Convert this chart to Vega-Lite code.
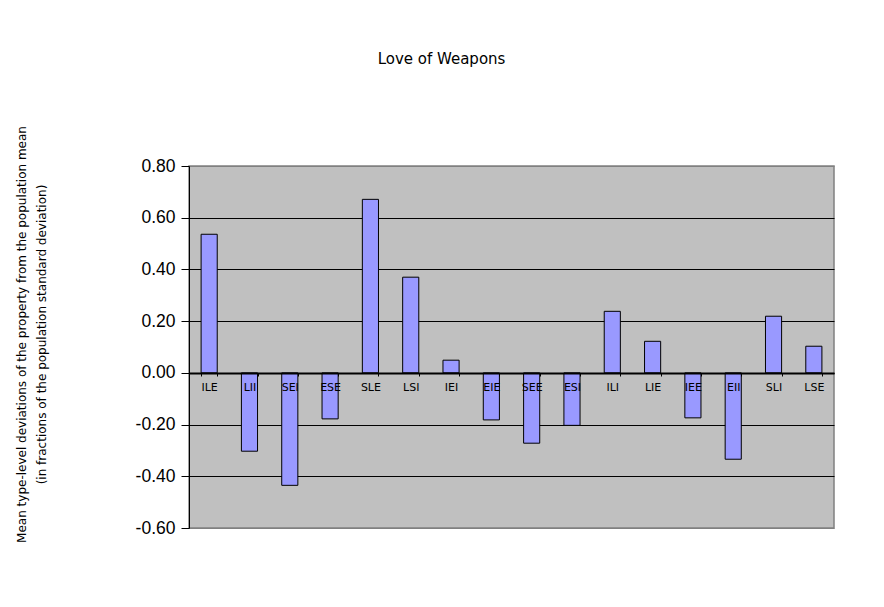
{
  "$schema": "https://vega.github.io/schema/vega-lite/v6.json",
  "width": 645,
  "height": 362,
  "autosize": {"type": "none"},
  "padding": {"left": 189, "top": 166, "right": 50, "bottom": 79},
  "background": "white",
  "title": {
    "text": "Love of Weapons",
    "font": "DejaVu Sans",
    "fontSize": 15,
    "fontWeight": "normal",
    "color": "black",
    "anchor": "middle",
    "frame": "group",
    "baseline": "alphabetic",
    "dx": -70,
    "offset": 47
  },
  "data": {
    "values": [
      {"type": "ILE", "value": 0.536},
      {"type": "LII", "value": -0.303},
      {"type": "SEI", "value": -0.435},
      {"type": "ESE", "value": -0.178},
      {"type": "SLE", "value": 0.671},
      {"type": "LSI", "value": 0.370},
      {"type": "IEI", "value": 0.049},
      {"type": "EIE", "value": -0.182},
      {"type": "SEE", "value": -0.272},
      {"type": "ESI", "value": -0.203},
      {"type": "ILI", "value": 0.238},
      {"type": "LIE", "value": 0.122},
      {"type": "IEE", "value": -0.174},
      {"type": "EII", "value": -0.334},
      {"type": "SLI", "value": 0.219},
      {"type": "LSE", "value": 0.103}
    ]
  },
  "mark": {"type": "bar", "fill": "#9999FF", "stroke": "black", "strokeWidth": 1},
  "encoding": {
    "x": {
      "field": "type",
      "type": "nominal",
      "sort": null,
      "scale": {"paddingInner": 0.6, "paddingOuter": 0.3},
      "axis": {
        "title": null,
        "orient": "bottom",
        "offset": -155,
        "zindex": 1,
        "labelAngle": 0,
        "labelFont": "DejaVu Sans",
        "labelFontSize": 11,
        "labelColor": "black",
        "labelBaseline": "alphabetic",
        "labelPadding": 14,
        "tickSize": 3,
        "tickBand": "extent",
        "tickColor": "black",
        "domainColor": "black",
        "domainWidth": 2,
        "grid": false
      }
    },
    "y": {
      "field": "value",
      "type": "quantitative",
      "scale": {"domain": [-0.6, 0.8], "nice": false, "zero": true},
      "axis": {
        "values": [-0.6, -0.4, -0.2, 0, 0.2, 0.4, 0.6, 0.8],
        "labelExpr": "(datum.value < -0.0001 ? '-' : '') + format(abs(datum.value), '.2f')",
        "labelFont": "Liberation Sans",
        "labelFontSize": 17.5,
        "labelColor": "black",
        "labelPadding": 6,
        "tickSize": 8,
        "tickColor": "black",
        "domainColor": "black",
        "domainWidth": 1,
        "grid": true,
        "gridColor": {"condition": {"test": "datum.value > 0.79 || datum.value < -0.59", "value": "#808080"}, "value": "black"},
        "gridOpacity": 1,
        "gridWidth": 1,
        "title": ["Mean type-level deviations of the property from the population mean", "(in fractions of the population standard deviation)"],
        "titleFont": "DejaVu Sans",
        "titleFontSize": 12,
        "titleFontWeight": "normal",
        "titleColor": "black",
        "titleAngle": -90,
        "titleBaseline": "alphabetic",
        "titleAlign": "center",
        "titleLineHeight": 20,
        "titleX": -164,
        "titleY": 168
      }
    }
  },
  "config": {
    "view": {"fill": "#C0C0C0", "stroke": "#808080", "strokeWidth": 1.5}
  }
}
